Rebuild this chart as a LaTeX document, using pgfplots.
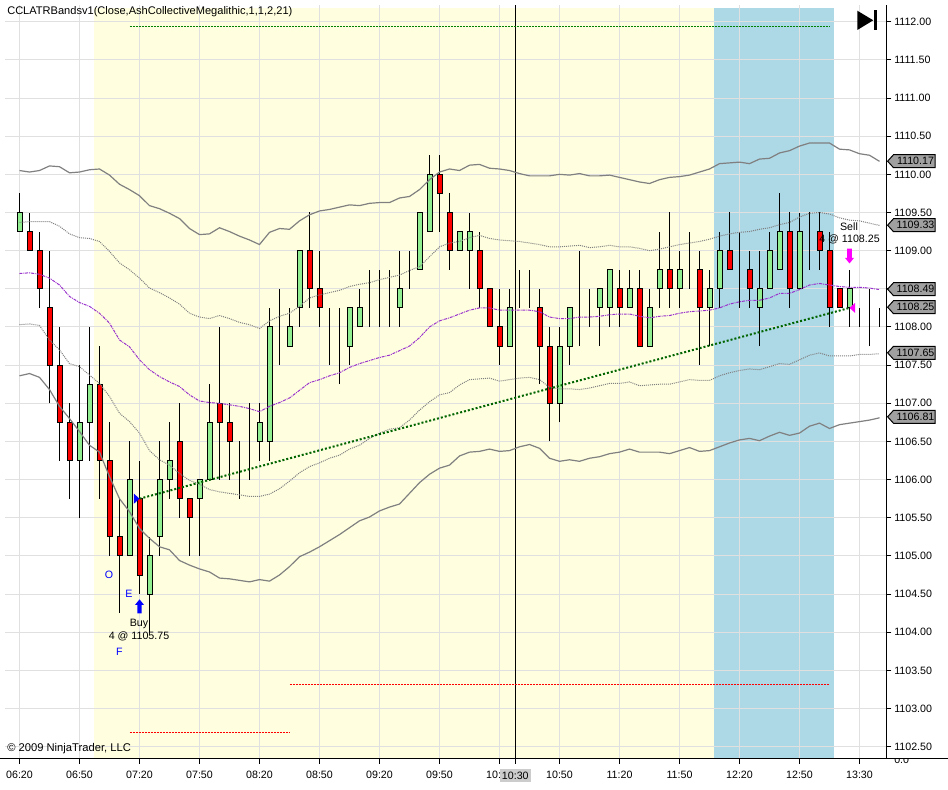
\documentclass[border=0pt]{standalone}
\usepackage{fontspec}
\setmainfont{Liberation Sans}
\usepackage{pgfplots}
\usepackage{pgfplotstable}
\pgfplotsset{compat=1.18}

\definecolor{gridgray}{HTML}{E0E0E0}
\definecolor{sessionyellow}{HTML}{FFFFE0}
\definecolor{sessionblue}{HTML}{ADD8E6}
\definecolor{upbar}{HTML}{90EE90}
\definecolor{bandgray}{HTML}{808080}
\definecolor{bandpurple}{HTML}{9932CC}
\definecolor{targetgreen}{HTML}{006400}
\definecolor{tagfill}{HTML}{A0A0A0}
\definecolor{sellpink}{HTML}{FF00FF}
\definecolor{levelgreen}{HTML}{008000}

\newcommand{\chartfont}{\fontsize{8}{9.6}\selectfont}

% the same box for every stacked axis, 1 px = 0.75 pt
\pgfplotsset{
  chartbox/.style={
    at={(3.75pt,0pt)}, anchor=south west,
    scale only axis, width=660.75pt, height=564.975pt,
    xmin=-1.45, xmax=86.65, ymin=1102.3485, ymax=1112.2188,
  },
}

% order arrows and fill triangles
\pgfdeclareplotmark{buyarrow}{%
  \pgfpathmoveto{\pgfqpoint{0pt}{5.25pt}}
  \pgfpathlineto{\pgfqpoint{3.4pt}{1pt}}
  \pgfpathlineto{\pgfqpoint{1.6pt}{1pt}}
  \pgfpathlineto{\pgfqpoint{1.6pt}{-5.25pt}}
  \pgfpathlineto{\pgfqpoint{-1.6pt}{-5.25pt}}
  \pgfpathlineto{\pgfqpoint{-1.6pt}{1pt}}
  \pgfpathlineto{\pgfqpoint{-3.4pt}{1pt}}
  \pgfpathclose\pgfusepathqfill}
\pgfdeclareplotmark{sellarrow}{%
  \pgfpathmoveto{\pgfqpoint{0pt}{-5.6pt}}
  \pgfpathlineto{\pgfqpoint{3.4pt}{-1.4pt}}
  \pgfpathlineto{\pgfqpoint{1.7pt}{-1.4pt}}
  \pgfpathlineto{\pgfqpoint{1.7pt}{5.6pt}}
  \pgfpathlineto{\pgfqpoint{-1.7pt}{5.6pt}}
  \pgfpathlineto{\pgfqpoint{-1.7pt}{-1.4pt}}
  \pgfpathlineto{\pgfqpoint{-3.4pt}{-1.4pt}}
  \pgfpathclose\pgfusepathqfill}
\pgfdeclareplotmark{entrytri}{%
  \pgfpathmoveto{\pgfqpoint{0pt}{0pt}}
  \pgfpathlineto{\pgfqpoint{-4.2pt}{3.8pt}}
  \pgfpathlineto{\pgfqpoint{-4.2pt}{-3.8pt}}
  \pgfpathclose\pgfusepathqfill}
\pgfdeclareplotmark{exittri}{%
  \pgfpathmoveto{\pgfqpoint{0pt}{0pt}}
  \pgfpathlineto{\pgfqpoint{4.2pt}{3.8pt}}
  \pgfpathlineto{\pgfqpoint{4.2pt}{-3.8pt}}
  \pgfpathclose\pgfusepathqfill}

% base = bottom of body, up/down = body height, five-minute bars
\pgfplotstableread{
i base up down high low
0 1109.25 0.25 0 1109.75 1109.25
1 1109.00 0 0.25 1109.50 1109.00
2 1108.50 0 0.50 1109.25 1108.25
3 1107.50 0 0.75 1109.00 1107.00
4 1106.75 0 0.75 1108.00 1106.25
5 1106.25 0 0.50 1107.00 1105.75
6 1106.25 0.50 0 1107.50 1105.50
7 1106.75 0.50 0 1108.00 1106.25
8 1106.25 0 1.00 1107.75 1105.75
9 1105.25 0 1.00 1106.75 1105.00
10 1105.00 0 0.25 1105.75 1104.25
11 1105.00 1.00 0 1106.50 1105.00
12 1104.75 0 1.00 1106.25 1104.50
13 1104.50 0.50 0 1105.25 1104.00
14 1105.25 0.75 0 1106.50 1105.00
15 1106.00 0.25 0 1106.75 1105.75
16 1105.75 0 0.75 1107.00 1105.50
17 1105.50 0 0.25 1105.75 1105.00
18 1105.75 0.25 0 1106.00 1105.00
19 1106.00 0.75 0 1107.25 1106.00
20 1106.75 0 0.25 1108.00 1106.00
21 1106.50 0 0.25 1107.00 1106.00
22 1106.50 0 0 1106.50 1105.75
23 1106.50 0 0 1107.00 1106.00
24 1106.50 0.25 0 1107.00 1106.25
25 1106.50 1.50 0 1108.25 1106.25
26 1108.00 0 0 1108.50 1107.50
27 1107.75 0.25 0 1108.25 1107.75
28 1108.25 0.75 0 1109.00 1108.00
29 1108.50 0 0.50 1109.50 1108.25
30 1108.25 0 0.25 1109.00 1108.00
31 1108.00 0 0 1108.25 1107.50
32 1108.00 0 0 1108.25 1107.25
33 1107.75 0.50 0 1108.25 1107.50
34 1108.00 0.25 0 1108.50 1108.00
35 1108.25 0 0 1108.75 1108.00
36 1108.25 0 0 1108.75 1108.00
37 1108.25 0 0 1108.75 1108.00
38 1108.25 0.25 0 1109.00 1108.00
39 1108.75 0 0 1109.00 1108.50
40 1108.75 0.75 0 1109.50 1108.75
41 1109.25 0.75 0 1110.25 1109.25
42 1109.75 0 0.25 1110.25 1109.25
43 1109.00 0 0.50 1109.75 1108.75
44 1109.00 0.25 0 1109.25 1109.00
45 1109.00 0.25 0 1109.50 1108.50
46 1108.50 0 0.50 1109.25 1108.25
47 1108.00 0 0.50 1108.50 1108.00
48 1107.75 0 0.25 1108.50 1107.50
49 1107.75 0.50 0 1108.50 1107.75
50 1108.25 0 0 1108.75 1108.25
51 1108.25 0 0 1108.75 1108.25
52 1107.75 0 0.50 1108.50 1107.25
53 1107.00 0 0.75 1108.00 1106.50
54 1107.00 0.75 0 1108.00 1106.75
55 1107.75 0.50 0 1108.25 1107.50
56 1108.25 0 0 1109.00 1107.75
57 1108.25 0 0 1108.50 1108.00
58 1108.25 0.25 0 1108.50 1107.75
59 1108.25 0.50 0 1108.75 1108.00
60 1108.25 0 0.25 1108.75 1108.00
61 1108.25 0.25 0 1108.75 1108.25
62 1107.75 0 0.75 1108.75 1107.75
63 1107.75 0.50 0 1108.50 1107.75
64 1108.50 0.25 0 1109.25 1108.25
65 1108.50 0 0.25 1109.50 1108.25
66 1108.50 0.25 0 1109.00 1108.25
67 1108.75 0 0 1109.25 1108.50
68 1108.25 0 0.50 1109.00 1107.50
69 1108.25 0.25 0 1108.75 1107.75
70 1108.50 0.50 0 1109.25 1108.25
71 1108.75 0 0.25 1109.50 1108.75
72 1108.75 0 0 1109.25 1108.25
73 1108.50 0 0.25 1109.00 1108.25
74 1108.25 0.25 0 1109.00 1107.75
75 1108.50 0.50 0 1109.25 1108.50
76 1108.75 0.50 0 1109.75 1108.75
77 1108.50 0 0.75 1109.50 1108.25
78 1108.50 0.75 0 1109.50 1108.50
79 1109.50 0 0 1109.50 1108.75
80 1109.00 0 0.25 1109.50 1108.75
81 1108.25 0 0.75 1109.25 1108.00
82 1108.25 0 0.25 1108.50 1108.25
83 1108.25 0.25 0 1108.75 1108.00
84 1108.25 0 0 1108.25 1108.00
85 1108.25 0 0 1108.50 1107.75
86 1108.25 0 0 1108.25 1108.00
}\candles

% ATR bands: outer, inner, mid, inner, outer
\pgfplotstableread{
i upper uppin mid lowin lower
0 1110.05 1109.37 1108.70 1108.03 1107.36
1 1110.03 1109.38 1108.71 1108.04 1107.39
2 1110.05 1109.38 1108.69 1108.02 1107.34
3 1110.11 1109.38 1108.64 1107.83 1107.18
4 1110.10 1109.32 1108.55 1107.70 1106.96
5 1110.02 1109.22 1108.40 1107.52 1106.80
6 1110.03 1109.17 1108.32 1107.48 1106.63
7 1110.06 1109.16 1108.27 1107.37 1106.45
8 1110.07 1109.12 1108.18 1107.26 1106.36
9 1109.99 1108.99 1108.05 1107.09 1106.04
10 1109.87 1108.84 1107.83 1106.87 1105.75
11 1109.80 1108.75 1107.74 1106.76 1105.58
12 1109.72 1108.64 1107.57 1106.61 1105.36
13 1109.59 1108.51 1107.44 1106.38 1105.23
14 1109.55 1108.45 1107.35 1106.26 1105.12
15 1109.49 1108.38 1107.28 1106.19 1105.08
16 1109.42 1108.30 1107.22 1106.08 1104.94
17 1109.29 1108.18 1107.11 1105.99 1104.88
18 1109.21 1108.13 1107.03 1105.94 1104.83
19 1109.22 1108.11 1107.01 1105.87 1104.79
20 1109.30 1108.15 1107.00 1105.84 1104.71
21 1109.25 1108.11 1106.98 1105.82 1104.70
22 1109.19 1108.06 1106.96 1105.80 1104.68
23 1109.14 1108.03 1106.93 1105.78 1104.66
24 1109.08 1107.98 1106.89 1105.78 1104.69
25 1109.24 1108.08 1106.96 1105.81 1104.67
26 1109.29 1108.14 1107.01 1105.88 1104.75
27 1109.28 1108.18 1107.07 1105.98 1104.86
28 1109.39 1108.27 1107.17 1106.09 1104.99
29 1109.47 1108.38 1107.27 1106.17 1105.05
30 1109.52 1108.42 1107.31 1106.22 1105.12
31 1109.54 1108.45 1107.36 1106.28 1105.20
32 1109.57 1108.48 1107.40 1106.32 1105.28
33 1109.60 1108.53 1107.47 1106.40 1105.37
34 1109.59 1108.56 1107.52 1106.45 1105.46
35 1109.62 1108.58 1107.56 1106.54 1105.51
36 1109.63 1108.62 1107.60 1106.61 1105.59
37 1109.63 1108.65 1107.63 1106.66 1105.64
38 1109.69 1108.68 1107.69 1106.68 1105.68
39 1109.71 1108.74 1107.75 1106.78 1105.82
40 1109.80 1108.79 1107.86 1106.91 1105.96
41 1109.93 1108.92 1108.00 1107.02 1106.07
42 1110.03 1109.05 1108.08 1107.11 1106.15
43 1110.07 1109.10 1108.12 1107.14 1106.19
44 1110.05 1109.12 1108.17 1107.24 1106.31
45 1110.12 1109.17 1108.22 1107.31 1106.36
46 1110.13 1109.20 1108.25 1107.32 1106.37
47 1110.08 1109.16 1108.25 1107.33 1106.40
48 1110.07 1109.14 1108.22 1107.29 1106.37
49 1110.05 1109.13 1108.22 1107.31 1106.38
50 1110.01 1109.12 1108.22 1107.33 1106.43
51 1109.98 1109.10 1108.22 1107.34 1106.46
52 1109.98 1109.08 1108.20 1107.31 1106.41
53 1109.98 1109.05 1108.13 1107.21 1106.28
54 1110.00 1109.05 1108.11 1107.19 1106.24
55 1109.99 1109.06 1108.11 1107.19 1106.26
56 1110.01 1109.07 1108.13 1107.18 1106.24
57 1109.98 1109.04 1108.13 1107.20 1106.28
58 1109.98 1109.05 1108.14 1107.23 1106.30
59 1109.99 1109.07 1108.16 1107.26 1106.34
60 1109.96 1109.05 1108.17 1107.26 1106.36
61 1109.93 1109.05 1108.17 1107.28 1106.40
62 1109.90 1109.03 1108.14 1107.23 1106.36
63 1109.88 1109.00 1108.12 1107.24 1106.36
64 1109.93 1109.02 1108.14 1107.25 1106.36
65 1109.96 1109.05 1108.15 1107.25 1106.34
66 1109.97 1109.08 1108.18 1107.28 1106.38
67 1109.99 1109.10 1108.20 1107.31 1106.42
68 1110.03 1109.12 1108.21 1107.30 1106.37
69 1110.07 1109.15 1108.22 1107.30 1106.38
70 1110.14 1109.19 1108.25 1107.36 1106.43
71 1110.15 1109.22 1108.30 1107.40 1106.48
72 1110.16 1109.24 1108.33 1107.43 1106.52
73 1110.14 1109.25 1108.35 1107.45 1106.54
74 1110.20 1109.28 1108.35 1107.44 1106.51
75 1110.21 1109.30 1108.38 1107.48 1106.57
76 1110.28 1109.34 1108.44 1107.52 1106.62
77 1110.31 1109.37 1108.44 1107.51 1106.58
78 1110.37 1109.44 1108.49 1107.57 1106.61
79 1110.41 1109.49 1108.55 1107.63 1106.70
80 1110.41 1109.50 1108.57 1107.66 1106.74
81 1110.41 1109.48 1108.55 1107.62 1106.67
82 1110.33 1109.43 1108.53 1107.62 1106.72
83 1110.32 1109.40 1108.52 1107.62 1106.74
84 1110.27 1109.39 1108.52 1107.64 1106.76
85 1110.25 1109.36 1108.51 1107.64 1106.78
86 1110.17 1109.33 1108.49 1107.65 1106.81
}\bands

% grey price tag on the right scale, in picture pixels
\newcommand{\pricetag}[2]{%
  \draw[fill=tagfill,line width=.75pt]
    (887.6,#1) -- (893.5,#1-6.5) -- (935,#1-6.5) -- (935,#1+6.5) -- (893.5,#1+6.5) -- cycle;
  \node[font=\chartfont,anchor=center,inner sep=0pt] at (915.5,#1) {#2};}

\begin{document}
\begin{tikzpicture}
\useasboundingbox (0,-23.025pt) rectangle (711pt,568.725pt);

% session shading under the grid
\begin{axis}[chartbox, hide axis]
  \addplot[fill=sessionyellow, draw=none] coordinates
    {(7.45,1102.3485)(69.45,1102.3485)(69.45,1112.1795)(7.45,1112.1795)} --cycle;
  \addplot[fill=sessionblue, draw=none] coordinates
    {(69.45,1102.3485)(81.45,1102.3485)(81.45,1112.1795)(69.45,1112.1795)} --cycle;
\end{axis}

% scales, grid, cursor and wicks
\begin{axis}[
    chartbox,
    axis x line*=bottom, axis y line*=right,
    axis line style={-, line width=.75pt},
    tick align=outside, major tick length=4pt,
    tick style={black, line width=.75pt},
    grid=major, grid style={gridgray, line width=.75pt},
    xtick={0,6,...,84},
    xticklabels={06:20,06:50,07:20,07:50,08:20,08:50,09:20,09:50,10:20,10:50,11:20,11:50,12:20,12:50,13:30},
    ytick={1102.5,1103,...,1112},
    scaled y ticks=false,
    /pgf/number format/.cd, fixed, fixed zerofill, precision=2, 1000 sep={}, assume math mode=true,
    /pgfplots/.cd,
    tick label style={font=\chartfont},
    xticklabel style={inner sep=0pt, yshift=-5.7pt},
    yticklabel style={inner sep=0pt, xshift=2pt},
  ]
  \addplot[black, line width=.75pt] coordinates {(49.58,1102.3485)(49.58,1112.2188)};
  \addplot[draw=none, no marks, error bars/.cd, y dir=plus, y explicit,
      error mark=none, error bar style={draw=black, line width=.75pt}]
    table[x=i, y=low, y error expr=\thisrow{high}-\thisrow{low}] {\candles};
\end{axis}

% bodies: stacked from 1100, the axis scale is shifted to match
\begin{axis}[chartbox, hide axis, ymin=2.3485, ymax=12.2188,
    ybar stacked, bar width=3.75pt, bar shift=.375pt]
  \addplot[draw=none, fill=none] table[x=i, y expr=\thisrow{base}-1100] {\candles};
  \addplot[draw=black, line width=.75pt, fill=upbar] table[x=i, y=up] {\candles};
  \addplot[draw=black, line width=.75pt, fill=red] table[x=i, y=down] {\candles};
\end{axis}

% bands, levels, trade line and executions
\begin{axis}[chartbox, hide axis]
  \addplot[bandgray, line width=.9pt] table[x=i, y=upper] {\bands};
  \addplot[bandgray, line width=.75pt, dash pattern=on .75pt off .75pt] table[x=i, y=uppin] {\bands};
  \addplot[bandpurple, line width=.75pt, dash pattern=on 2.2pt off .7pt on .7pt off .7pt] table[x=i, y=mid] {\bands};
  \addplot[bandgray, line width=.75pt, dash pattern=on .75pt off .75pt] table[x=i, y=lowin] {\bands};
  \addplot[bandgray, line width=.9pt] table[x=i, y=lower] {\bands};

  \addplot[levelgreen, line width=.75pt, dash pattern=on 1.5pt off .75pt] coordinates {(11,1111.94)(81,1111.94)};
  \addplot[red, line width=.75pt, dash pattern=on 1.5pt off .75pt] coordinates {(27,1103.32)(81,1103.32)};
  \addplot[red, line width=.75pt, dash pattern=on 1.5pt off .75pt] coordinates {(11,1102.69)(27,1102.69)};

  \addplot[targetgreen, line width=1.5pt, dash pattern=on 1.5pt off 1.5pt] coordinates {(12,1105.75)(83,1108.25)};
  \addplot[only marks, mark=entrytri, mark options={fill=blue, draw=none}] coordinates {(12,1105.75)};
  \addplot[only marks, mark=exittri, mark options={fill=sellpink, draw=none}] coordinates {(83,1108.25)};
  \addplot[only marks, mark=buyarrow, mark options={fill=blue, draw=none}] coordinates {(12,1104.34)};
  \addplot[only marks, mark=sellarrow, mark options={fill=sellpink, draw=none}] coordinates {(83,1108.93)};
\end{axis}

% annotations, in pixels of the picture
\begin{scope}[x=.75pt, y=-.75pt, yshift=568.725pt]
  \draw[line width=.75pt] (0,758.3) -- (5,758.3) (886,758.3) -- (948,758.3);
  \draw[line width=.75pt] (515.3,758.3) -- (515.3,763.6);

  \node[fill=black!20, inner sep=0pt, minimum width=23pt, minimum height=9.8pt, font=\chartfont] at (515.3,775.5) {10:30};

  \begin{scope}
    \clip (890,759) rectangle (915,770);
    \node[font=\chartfont, inner sep=0pt, anchor=west] at (894,760) {0.0};
  \end{scope}

  \pricetag{161.2}{1110.17}
  \pricetag{225.2}{1109.33}
  \pricetag{289.2}{1108.49}
  \pricetag{307.2}{1108.25}
  \pricetag{352.8}{1107.65}
  \pricetag{416.8}{1106.81}

  \node[font=\fontsize{8.3}{10}\selectfont, inner sep=0pt, anchor=west] at (7,12) {CCLATRBandsv1(Close,AshCollectiveMegalithic,1,1,2,21)};
  \node[font=\fontsize{8.4}{10}\selectfont, inner sep=0pt, anchor=west] at (7,749) {© 2009 NinjaTrader, LLC};
  \node[font=\chartfont, inner sep=0pt, text=blue] at (109,575) {O};
  \node[font=\chartfont, inner sep=0pt, text=blue] at (129,594) {E};
  \node[font=\chartfont, inner sep=0pt, text=blue] at (119.3,651.7) {F};
  \node[font=\chartfont, inner sep=0pt] at (139,624.3) {Buy};
  \node[font=\chartfont, inner sep=0pt] at (139,636) {4 @ 1105.75};
  \node[font=\chartfont, inner sep=0pt] at (849,227) {Sell};
  \node[font=\chartfont, inner sep=0pt] at (849.5,239.3) {4 @ 1108.25};

  % skip-to-end button
  \fill (857.3,10.7) -- (873.3,20.3) -- (857.3,30) -- cycle;
  \fill (874.3,10.5) rectangle (877.3,30);
\end{scope}
\end{tikzpicture}
\end{document}
